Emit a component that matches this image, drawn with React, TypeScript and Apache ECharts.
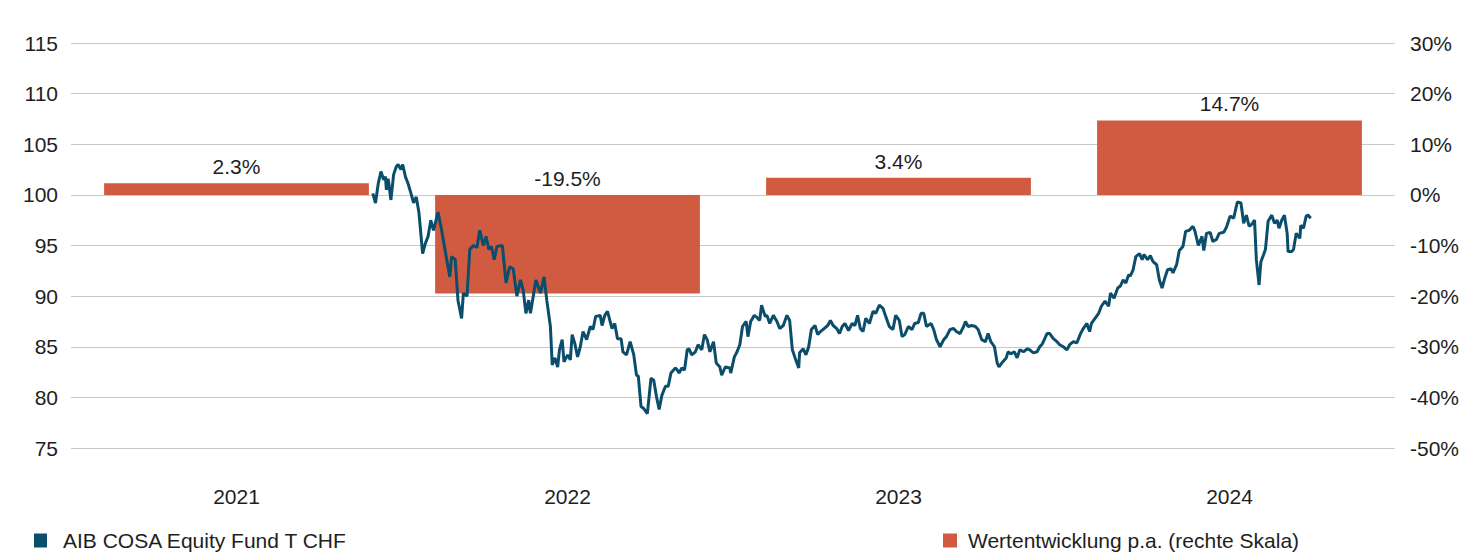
import React, { useEffect, useRef } from 'react';
import * as echarts from 'echarts';

const years = ['2021', '2022', '2023', '2024'];
const yearlyPerformance = [2.3, -19.5, 3.4, 14.7];
const fundName = 'AIB COSA Equity Fund T CHF';
const perfName = 'Wertentwicklung p.a. (rechte Skala)';

// [days since 2021-11-30, price]
const fundSeries: [number, number][] = [
  [0, 100.15], [3, 99.2], [6, 101.1], [9, 102.3], [12, 101.5], [14, 101.8], [15, 100.5], [17, 101.6], [20, 99.5], [23, 102.0],
  [26, 102.8], [28, 103.0], [31, 102.5], [33, 103.0], [36, 101.8], [39, 101.1], [42, 100.2], [45, 99.2], [48, 99.8], [51, 98.2],
  [55, 94.2], [58, 95.2], [61, 95.9], [64, 97.5], [67, 96.5], [72, 98.3], [76, 96.5], [81, 93.9], [85, 91.9], [87, 93.9],
  [91, 93.6], [94, 89.6], [98, 87.8], [100, 90.3], [104, 90.0], [107, 94.6], [111, 95.0], [115, 94.8], [118, 96.5], [122, 95.0],
  [125, 95.9], [128, 94.6], [131, 94.9], [134, 93.6], [137, 94.9], [143, 95.0], [147, 91.3], [151, 92.9], [155, 92.7], [159, 90.0],
  [163, 91.6], [166, 90.6], [169, 88.3], [172, 89.6], [174, 88.3], [180, 91.6], [185, 90.3], [189, 91.9], [192, 89.6], [196, 87.0],
  [198, 83.2], [201, 83.9], [204, 83.0], [206, 84.7], [209, 85.7], [211, 83.5], [215, 84.2], [218, 83.7], [220, 86.2], [223, 85.3],
  [226, 84.0], [229, 85.0], [232, 86.5], [236, 85.7], [240, 87.0], [243, 86.7], [246, 88.0], [251, 88.1], [253, 87.1], [256, 88.1],
  [259, 88.5], [264, 86.8], [267, 87.3], [270, 85.8], [274, 85.8], [276, 84.5], [280, 84.2], [284, 85.5], [288, 84.2], [291, 82.2],
  [293, 82.1], [296, 79.1], [299, 78.9], [303, 78.4], [307, 81.9], [310, 81.7], [313, 80.1], [316, 78.8], [319, 80.2], [323, 81.1],
  [326, 81.1], [329, 82.4], [334, 82.9], [336, 82.7], [338, 82.4], [341, 82.9], [344, 82.7], [347, 84.7], [349, 84.8], [352, 84.2],
  [356, 84.5], [359, 85.2], [363, 84.7], [366, 86.2], [369, 85.7], [372, 84.5], [376, 85.5], [379, 83.4], [383, 83.0], [385, 82.2],
  [389, 83.0], [394, 82.9], [395, 82.4], [399, 84.0], [402, 84.5], [405, 85.2], [408, 87.0], [412, 87.5], [414, 86.0], [417, 87.5],
  [421, 88.1], [424, 87.9], [427, 87.6], [429, 89.1], [433, 88.0], [435, 88.1], [438, 87.3], [442, 88.1], [446, 87.5], [449, 86.8],
  [453, 87.1], [457, 88.1], [460, 87.6], [463, 84.7], [466, 83.9], [470, 82.9], [471, 84.4], [475, 84.8], [478, 84.2], [481, 85.0],
  [484, 86.7], [488, 87.1], [491, 86.2], [494, 86.5], [498, 86.8], [502, 87.1], [505, 87.6], [508, 87.1], [512, 86.8], [515, 86.3],
  [518, 87.0], [521, 87.3], [525, 86.6], [529, 87.3], [532, 87.1], [535, 88.1], [538, 86.8], [541, 86.5], [544, 87.8], [548, 87.3],
  [552, 88.5], [555, 88.3], [559, 89.1], [563, 88.8], [566, 88.0], [570, 87.0], [574, 86.7], [577, 88.1], [581, 87.6], [584, 86.0],
  [587, 86.2], [591, 87.0], [595, 86.7], [598, 87.3], [602, 87.4], [605, 88.3], [608, 88.3], [611, 87.0], [616, 87.3], [619, 86.7],
  [622, 85.7], [626, 85.0], [630, 85.7], [633, 86.0], [637, 86.7], [641, 86.8], [644, 86.5], [648, 86.3], [652, 87.0], [654, 87.5],
  [657, 87.0], [661, 87.1], [665, 87.0], [668, 86.7], [672, 85.7], [676, 85.5], [679, 86.3], [682, 85.5], [686, 85.0], [689, 83.4],
  [691, 83.0], [695, 83.5], [699, 83.9], [701, 84.5], [704, 84.3], [708, 84.5], [711, 83.9], [714, 84.7], [718, 84.5], [722, 84.8],
  [725, 84.7], [729, 84.4], [733, 84.5], [736, 85.0], [739, 85.3], [744, 86.3], [747, 86.3], [751, 85.8], [755, 85.5], [758, 85.2],
  [762, 85.0], [766, 84.7], [769, 85.2], [773, 85.5], [777, 85.4], [781, 86.3], [784, 86.8], [788, 87.3], [791, 86.5], [793, 87.3],
  [797, 87.8], [801, 88.3], [804, 89.0], [808, 89.5], [812, 89.0], [814, 90.3], [818, 89.8], [822, 90.8], [825, 91.0], [828, 91.6],
  [831, 91.3], [834, 92.1], [836, 92.0], [839, 92.6], [842, 93.9], [846, 94.2], [849, 93.6], [851, 94.1], [855, 93.6], [858, 94.0],
  [861, 93.4], [865, 93.1], [868, 91.6], [871, 90.8], [874, 91.8], [877, 92.6], [881, 92.7], [883, 92.3], [887, 93.1], [890, 94.5],
  [894, 94.9], [897, 96.4], [901, 96.5], [905, 96.9], [907, 96.5], [911, 95.0], [915, 95.9], [917, 94.5], [920, 96.2], [924, 96.3],
  [927, 95.4], [931, 95.6], [934, 96.2], [939, 96.3], [942, 96.8], [946, 97.9], [950, 97.7], [954, 99.3], [958, 99.2], [961, 97.2],
  [964, 98.0], [967, 96.9], [970, 97.1], [973, 97.5], [975, 93.6], [978, 91.1], [980, 93.4], [983, 94.1], [985, 94.6], [988, 97.4],
  [992, 98.0], [995, 97.2], [998, 97.5], [1000, 96.7], [1003, 97.5], [1006, 98.0], [1009, 96.2], [1010, 94.4], [1014, 94.4], [1016, 94.6],
  [1019, 96.2], [1023, 95.7], [1024, 97.0], [1027, 96.7], [1030, 97.9], [1032, 98.0], [1035, 97.7],
];

const LINE_COLOR = '#0B4E6C';
const BAR_COLOR = '#D15B40';
const TEXT_COLOR = '#1e1e1e';
const FONT = '"Liberation Sans", Arial, Helvetica, sans-serif';

export default function App() {
  const ref = useRef<HTMLDivElement>(null);
  useEffect(() => {
    if (!ref.current) return;
    const chart = echarts.init(ref.current, null, { renderer: 'svg' });
    const start = Date.UTC(2021, 10, 30);
    const lineData = fundSeries.map(([d, v]) => [start + d * 86400000, v]);
    chart.setOption({
      animation: false,
      textStyle: { fontFamily: FONT },
      grid: { left: 71, right: 81, top: 43, bottom: 108, containLabel: false },
      legend: [
        {
          data: [fundName], left: 34, top: 530, padding: 0, icon: 'rect', itemWidth: 13, itemHeight: 14,
          textStyle: { fontSize: 21, color: TEXT_COLOR, fontFamily: FONT, padding: [0, 0, 0, 11] },
        },
        {
          data: [perfName], left: 943, top: 530, padding: 0, icon: 'rect', itemWidth: 14, itemHeight: 14,
          textStyle: { fontSize: 21, color: TEXT_COLOR, fontFamily: FONT, padding: [0, 0, 0, 6] },
        },
      ],
      xAxis: [
        {
          type: 'category', data: years,
          axisLine: { show: false }, axisTick: { show: false },
          axisLabel: { fontSize: 21, color: TEXT_COLOR, margin: 38, fontFamily: FONT },
          splitLine: { show: false },
        },
        { type: 'time', show: false, min: Date.UTC(2021, 0, 1), max: Date.UTC(2025, 0, 1) },
      ],
      yAxis: [
        {
          type: 'value', position: 'left', min: 75, max: 115, interval: 5,
          axisLine: { show: false }, axisTick: { show: false },
          axisLabel: { fontSize: 21, color: TEXT_COLOR, margin: 13, fontFamily: FONT },
          splitLine: { show: true, lineStyle: { color: '#c8c8c8', width: 1 } },
        },
        {
          type: 'value', position: 'right', min: -50, max: 30, interval: 10,
          axisLine: { show: false }, axisTick: { show: false },
          axisLabel: { fontSize: 21, color: TEXT_COLOR, margin: 15, formatter: '{value}%', fontFamily: FONT },
          splitLine: { show: false },
        },
      ],
      series: [
        {
          name: perfName, type: 'bar', xAxisIndex: 0, yAxisIndex: 1,
          data: yearlyPerformance, barCategoryGap: '20%',
          itemStyle: { color: BAR_COLOR },
          label: {
            show: true, position: 'top', distance: 6, fontSize: 21, color: TEXT_COLOR, fontFamily: FONT,
            formatter: (p: any) => Number(p.value).toFixed(1) + '%',
          },
          z: 1,
        },
        {
          name: fundName, type: 'line', xAxisIndex: 1, yAxisIndex: 0,
          data: lineData, showSymbol: false, symbol: 'none',
          lineStyle: { color: LINE_COLOR, width: 3 }, itemStyle: { color: LINE_COLOR },
          z: 3,
        },
      ],
    });
    return () => chart.dispose();
  }, []);
  return <div ref={ref} style={{ position: 'absolute', left: 0, top: 0, width: 1476, height: 556 }} />;
}
